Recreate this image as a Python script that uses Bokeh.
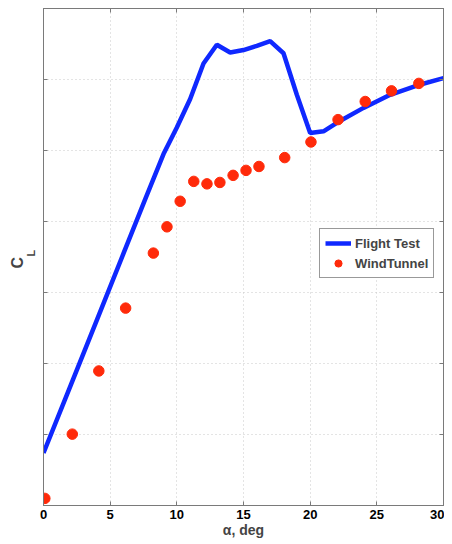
from bokeh.plotting import figure
from bokeh.models import Range1d, LinearAxis, Legend, LegendItem, FixedTicker, Title
from bokeh.embed import file_html
from bokeh.resources import INLINE

# Flight test data (alpha in deg, CL)
ft_alpha = [0, 2, 4, 6, 7.6, 9, 10, 11, 12, 13, 14, 15, 16, 17, 18, 19, 20, 21, 22, 24, 26, 28, 30]
ft_cl = [0.148, 0.335, 0.522, 0.71, 0.86, 0.99, 1.065, 1.145, 1.245, 1.298, 1.276, 1.283, 1.295, 1.308,
         1.274, 1.157, 1.049, 1.054, 1.078, 1.12, 1.157, 1.183, 1.204]

# Wind tunnel data
wt_alpha = [0.1, 2.16, 4.15, 6.16, 8.24, 9.26, 10.25, 11.27, 12.26, 13.23, 14.22, 15.19, 16.16,
            18.09, 20.06, 22.09, 24.13, 26.1, 28.15]
wt_cl = [0.020, 0.201, 0.379, 0.556, 0.711, 0.785, 0.857, 0.913, 0.906, 0.910, 0.930, 0.944, 0.955,
         0.980, 1.024, 1.087, 1.138, 1.168, 1.189]

x_ticks = [0, 5, 10, 15, 20, 25, 30]
y_ticks = [0, 0.2, 0.4, 0.6, 0.8, 1.0, 1.2, 1.4]

FONT = "Liberation Sans"
GRAY = "#7a7a7a"

p = figure(width=444, height=540, output_backend="svg", toolbar_location=None,
           x_range=Range1d(0, 30), y_range=Range1d(0, 1.4), y_axis_location=None,
           min_border_left=43, min_border_right=1, min_border_top=8, min_border_bottom=34)

p.outline_line_color = GRAY
p.outline_line_width = 1

# bottom axis with labels
xa = p.xaxis[0]
xa.ticker = FixedTicker(ticks=x_ticks)
xa.axis_line_color = GRAY
xa.major_tick_line_color = GRAY
xa.major_tick_in = 4
xa.major_tick_out = 0
xa.minor_tick_line_color = None
xa.major_label_text_font = FONT
xa.major_label_text_font_style = "bold"
xa.major_label_text_font_size = "13px"
xa.major_label_text_color = "black"
xa.major_label_standoff = 4
xa.axis_label = "α, deg"
xa.axis_label_text_font = FONT
xa.axis_label_text_font_style = "bold"
xa.axis_label_text_font_size = "14px"
xa.axis_label_standoff = 0

# tick-only axes on the other sides (ticks drawn as unlabeled minor ticks)
def tick_axis(ticks):
    return LinearAxis(ticker=FixedTicker(ticks=[], minor_ticks=ticks),
                      axis_line_color=GRAY, minor_tick_line_color=GRAY,
                      minor_tick_in=4, minor_tick_out=0, major_tick_line_color=None)

p.add_layout(tick_axis(y_ticks), "left")
p.add_layout(tick_axis(y_ticks), "right")
p.add_layout(tick_axis(x_ticks), "above")

# y label "C_L" built from two titles on the left side
p.add_layout(Title(text="L", align="left", offset=249, standoff=13, text_font=FONT,
                   text_font_style="bold", text_font_size="11px"), "left")
p.add_layout(Title(text="C", align="left", offset=237, standoff=-19, text_font=FONT,
                   text_font_style="bold", text_font_size="16px"), "left")

p.xgrid[0].ticker = FixedTicker(ticks=x_ticks)
p.ygrid[0].ticker = FixedTicker(ticks=y_ticks)
p.xgrid.grid_line_color = "#c8c8c8"
p.ygrid.grid_line_color = "#c8c8c8"
p.xgrid.grid_line_dash = "1 3"
p.ygrid.grid_line_dash = "1 3"

ln = p.line(ft_alpha, ft_cl, line_color="#0f28ff", line_width=4.5)
sc = p.scatter(wt_alpha, wt_cl, size=10.5, fill_color="#ff2a0a", line_color="#ff2a0a")

legend = Legend(items=[LegendItem(label="Flight Test", renderers=[ln]),
                       LegendItem(label="WindTunnel", renderers=[sc])],
                location=(276, 227), border_line_color="#333333", border_line_width=1,
                background_fill_alpha=1, label_text_font=FONT, label_text_font_style="bold",
                label_text_font_size="13px", glyph_width=26, glyph_height=18, label_height=18,
                padding=5, spacing=2, margin=0, label_standoff=4)
p.add_layout(legend)

open("out.html", "w").write(file_html(p, INLINE))
